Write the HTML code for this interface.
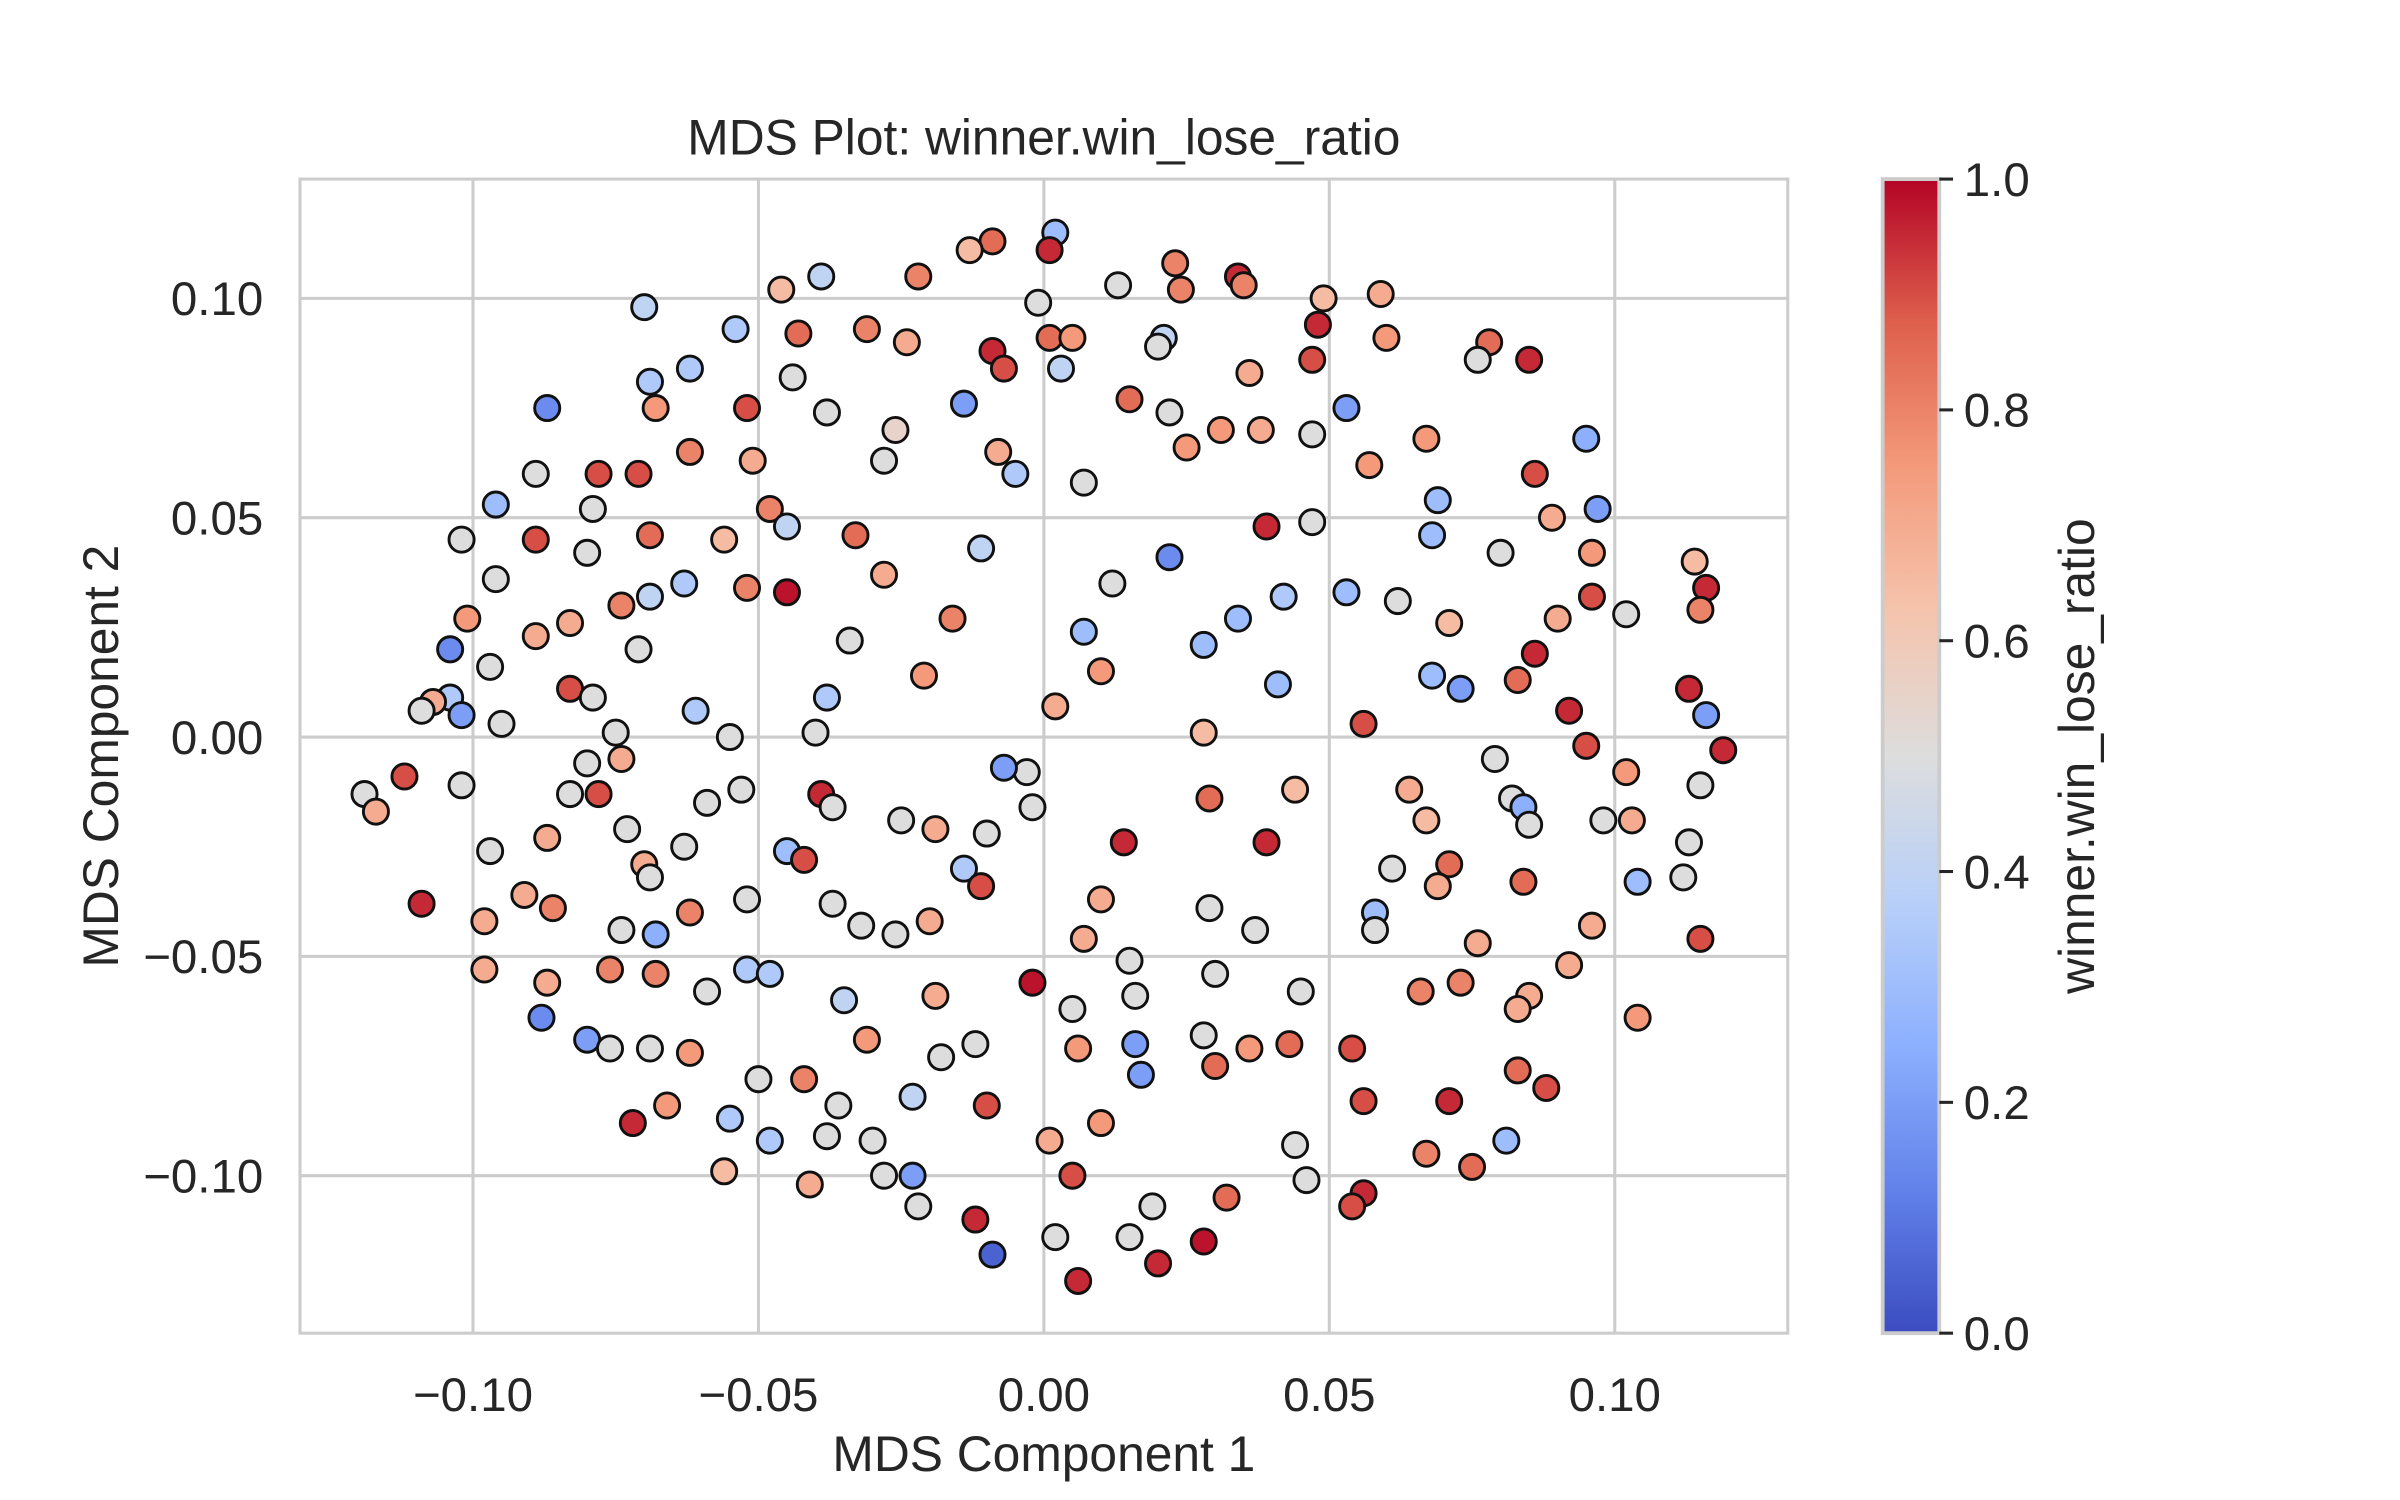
<!DOCTYPE html>
<html><head><meta charset="utf-8"><style>
html,body{margin:0;padding:0;background:#fff;}
svg{display:block;font-family:"Liberation Sans",Arial,sans-serif;}
</style></head><body>
<svg id="chart" width="2400" height="1500" viewBox="0 0 1568 980" xmlns="http://www.w3.org/2000/svg">
<defs>
<linearGradient id="cw" x1="0" y1="1" x2="0" y2="0">
<stop offset="0" stop-color="rgb(59,76,192)"/><stop offset="0.125" stop-color="rgb(98,130,234)"/>
<stop offset="0.25" stop-color="rgb(141,176,254)"/><stop offset="0.375" stop-color="rgb(184,208,249)"/>
<stop offset="0.5" stop-color="rgb(221,221,221)"/><stop offset="0.625" stop-color="rgb(245,196,173)"/>
<stop offset="0.75" stop-color="rgb(244,154,123)"/><stop offset="0.875" stop-color="rgb(222,96,77)"/>
<stop offset="1" stop-color="rgb(180,4,38)"/>
</linearGradient>
</defs>
<g id="grid"></g>
<g id="points"></g>
<rect x="196" y="117" width="972" height="754" fill="none" stroke="#cccccc" stroke-width="2"/>
<g id="xticks"></g>
<g id="yticks"></g>
<text x="682" y="101" font-size="32.5" text-anchor="middle" fill="#262626">MDS Plot: winner.win_lose_ratio</text>
<text x="682" y="961" font-size="32.5" text-anchor="middle" fill="#262626">MDS Component 1</text>
<text transform="translate(77,494) rotate(-90)" font-size="32.5" text-anchor="middle" fill="#262626">MDS Component 2</text>
<rect x="1230" y="117" width="37" height="754" fill="url(#cw)" stroke="#cccccc" stroke-width="2.5"/>
<g id="cticks"></g>
<text transform="translate(1368,494) rotate(-90)" font-size="32.5" text-anchor="middle" fill="#262626">winner.win_lose_ratio</text>
</svg>
<script>
const xs=[0.002,0.001,-0.009,-0.013,-0.022,0.023,0.034,0.024,0.035,0.013,0.049,0.059,-0.001,-0.039,-0.046,-0.070,-0.054,-0.043,-0.031,-0.024,0.001,0.005,0.021,0.020,0.048,0.060,-0.009,-0.007,0.003,-0.044,-0.069,-0.062,0.078,0.076,0.085,0.047,0.036,-0.087,-0.068,-0.052,-0.038,-0.026,-0.028,-0.014,0.015,0.022,0.053,0.031,0.038,0.025,0.047,-0.008,-0.005,0.007,-0.089,-0.078,-0.071,-0.062,-0.051,0.067,0.057,0.086,0.095,-0.096,-0.079,-0.048,0.069,0.097,0.089,-0.045,-0.033,-0.069,-0.056,-0.011,0.039,0.047,0.068,0.080,0.022,-0.102,-0.089,-0.080,0.096,0.114,0.116,0.115,0.096,-0.028,-0.052,-0.045,-0.063,-0.069,-0.074,-0.096,0.012,0.042,0.053,0.062,0.102,0.034,0.007,-0.016,0.090,0.071,-0.083,-0.101,-0.089,-0.034,-0.071,-0.104,-0.097,0.010,0.028,-0.021,0.086,0.068,0.073,0.083,-0.083,-0.079,0.041,-0.038,-0.104,-0.107,-0.109,-0.102,0.113,0.116,0.002,-0.061,0.092,-0.095,0.056,-0.075,-0.040,0.028,0.095,0.119,-0.055,-0.074,-0.080,0.079,-0.112,-0.119,-0.117,-0.102,-0.003,-0.007,0.102,0.115,-0.083,-0.078,-0.053,-0.039,-0.059,-0.037,-0.002,0.029,0.044,0.064,0.082,0.084,0.085,0.067,-0.025,-0.019,-0.010,0.014,0.039,0.098,0.103,0.113,-0.073,-0.087,-0.097,-0.063,-0.070,-0.069,-0.045,-0.042,-0.014,-0.011,0.061,0.071,0.069,0.084,0.104,0.112,-0.109,-0.091,-0.086,-0.052,-0.037,0.010,0.029,0.058,0.058,-0.098,-0.074,-0.062,-0.032,-0.026,-0.020,-0.068,0.096,0.076,0.007,0.037,0.115,-0.098,-0.076,-0.068,-0.087,-0.052,-0.048,-0.059,-0.002,0.015,0.030,0.045,0.066,0.073,0.085,0.083,0.092,0.104,-0.035,-0.019,0.016,-0.088,-0.080,-0.076,-0.069,-0.062,-0.031,-0.018,-0.012,0.005,0.006,0.016,0.017,0.028,0.036,0.043,0.054,0.030,-0.050,-0.042,-0.023,-0.036,-0.066,-0.055,-0.048,-0.038,-0.030,-0.010,0.010,0.056,0.071,0.083,0.088,-0.072,0.067,0.075,0.081,0.044,0.046,0.001,0.005,-0.056,-0.041,-0.028,-0.023,-0.022,0.056,0.054,0.032,0.019,-0.012,0.002,0.015,0.028,-0.009,0.020,0.006];
const ys=[0.115,0.111,0.113,0.111,0.105,0.108,0.105,0.102,0.103,0.103,0.100,0.101,0.099,0.105,0.102,0.098,0.093,0.092,0.093,0.090,0.091,0.091,0.091,0.089,0.094,0.091,0.088,0.084,0.084,0.082,0.081,0.084,0.090,0.086,0.086,0.086,0.083,0.075,0.075,0.075,0.074,0.070,0.063,0.076,0.077,0.074,0.075,0.070,0.070,0.066,0.069,0.065,0.060,0.058,0.060,0.060,0.060,0.065,0.063,0.068,0.062,0.060,0.068,0.053,0.052,0.052,0.054,0.052,0.050,0.048,0.046,0.046,0.045,0.043,0.048,0.049,0.046,0.042,0.041,0.045,0.045,0.042,0.042,0.040,0.034,0.029,0.032,0.037,0.034,0.033,0.035,0.032,0.030,0.036,0.035,0.032,0.033,0.031,0.028,0.027,0.024,0.027,0.027,0.026,0.026,0.027,0.023,0.022,0.020,0.020,0.016,0.015,0.021,0.014,0.019,0.014,0.011,0.013,0.011,0.009,0.012,0.009,0.009,0.008,0.006,0.005,0.011,0.005,0.007,0.006,0.006,0.003,0.003,0.001,0.001,0.001,-0.002,-0.003,0.000,-0.005,-0.006,-0.005,-0.009,-0.013,-0.017,-0.011,-0.008,-0.007,-0.008,-0.011,-0.013,-0.013,-0.012,-0.013,-0.015,-0.016,-0.016,-0.014,-0.012,-0.012,-0.014,-0.016,-0.020,-0.019,-0.019,-0.021,-0.022,-0.024,-0.024,-0.019,-0.019,-0.024,-0.021,-0.023,-0.026,-0.025,-0.029,-0.032,-0.026,-0.028,-0.030,-0.034,-0.030,-0.029,-0.034,-0.033,-0.033,-0.032,-0.038,-0.036,-0.039,-0.037,-0.038,-0.037,-0.039,-0.040,-0.044,-0.042,-0.044,-0.040,-0.043,-0.045,-0.042,-0.045,-0.043,-0.047,-0.046,-0.044,-0.046,-0.053,-0.053,-0.054,-0.056,-0.053,-0.054,-0.058,-0.056,-0.051,-0.054,-0.058,-0.058,-0.056,-0.059,-0.062,-0.052,-0.064,-0.060,-0.059,-0.059,-0.064,-0.069,-0.071,-0.071,-0.072,-0.069,-0.073,-0.070,-0.062,-0.071,-0.070,-0.077,-0.068,-0.071,-0.070,-0.071,-0.075,-0.078,-0.078,-0.082,-0.084,-0.084,-0.087,-0.092,-0.091,-0.092,-0.084,-0.088,-0.083,-0.083,-0.076,-0.080,-0.088,-0.095,-0.098,-0.092,-0.093,-0.101,-0.092,-0.100,-0.099,-0.102,-0.100,-0.100,-0.107,-0.104,-0.107,-0.105,-0.107,-0.110,-0.114,-0.114,-0.115,-0.118,-0.120,-0.124];
const vals=[0.3,0.95,0.85,0.65,0.8,0.8,0.95,0.8,0.8,0.5,0.65,0.7,0.5,0.4,0.65,0.4,0.35,0.85,0.8,0.7,0.85,0.75,0.4,0.5,0.95,0.75,0.95,0.9,0.4,0.5,0.35,0.35,0.85,0.5,0.95,0.9,0.7,0.15,0.75,0.9,0.5,0.55,0.5,0.2,0.85,0.5,0.2,0.75,0.7,0.75,0.5,0.7,0.35,0.5,0.5,0.9,0.9,0.8,0.7,0.75,0.75,0.9,0.25,0.3,0.5,0.8,0.3,0.2,0.7,0.4,0.85,0.85,0.65,0.4,0.95,0.5,0.3,0.5,0.15,0.5,0.9,0.5,0.75,0.65,0.95,0.8,0.9,0.7,0.8,0.98,0.35,0.4,0.8,0.5,0.5,0.35,0.3,0.5,0.5,0.3,0.3,0.8,0.7,0.65,0.7,0.75,0.7,0.5,0.5,0.15,0.5,0.75,0.3,0.75,0.95,0.3,0.2,0.85,0.9,0.5,0.3,0.35,0.35,0.7,0.5,0.2,0.95,0.2,0.7,0.35,0.95,0.5,0.9,0.5,0.5,0.65,0.9,0.95,0.5,0.7,0.5,0.5,0.9,0.5,0.7,0.5,0.5,0.2,0.75,0.5,0.5,0.9,0.5,0.95,0.5,0.5,0.5,0.85,0.65,0.7,0.5,0.25,0.5,0.65,0.5,0.7,0.5,0.95,0.95,0.5,0.7,0.5,0.5,0.7,0.5,0.5,0.7,0.5,0.3,0.9,0.35,0.9,0.5,0.85,0.7,0.85,0.3,0.5,0.95,0.7,0.8,0.5,0.5,0.7,0.5,0.3,0.5,0.7,0.5,0.8,0.5,0.5,0.7,0.25,0.7,0.7,0.7,0.5,0.9,0.7,0.8,0.8,0.7,0.35,0.35,0.5,0.98,0.5,0.5,0.5,0.8,0.8,0.7,0.7,0.7,0.75,0.4,0.7,0.5,0.15,0.2,0.5,0.5,0.75,0.75,0.5,0.5,0.5,0.75,0.2,0.2,0.5,0.75,0.85,0.9,0.85,0.5,0.8,0.4,0.5,0.75,0.35,0.35,0.5,0.5,0.9,0.75,0.9,0.95,0.85,0.9,0.95,0.8,0.85,0.3,0.5,0.5,0.7,0.9,0.65,0.7,0.5,0.2,0.5,0.95,0.9,0.85,0.5,0.95,0.5,0.5,0.98,0.05,0.95,0.95];
const xTicks=[-0.10,-0.05,0.00,0.05,0.10];
const yTicks=[-0.10,-0.05,0.00,0.05,0.10];
const cTicks=[0.0,0.2,0.4,0.6,0.8,1.0];

const NS="http://www.w3.org/2000/svg";
const X0=196,X1=1168,Y0=117,Y1=871;
const xMin=-0.1303,xMax=0.1303,yMin=-0.1359,yMax=0.1272;
const sx=v=>X0+(v-xMin)/(xMax-xMin)*(X1-X0);
const sy=v=>Y1-(v-yMin)/(yMax-yMin)*(Y1-Y0);
const sc=v=>Y1-v*(Y1-Y0);
const stops=[[59,76,192],[98,130,234],[141,176,254],[184,208,249],[221,221,221],[245,196,173],[244,154,123],[222,96,77],[180,4,38]];
function cmap(v){v=Math.max(0,Math.min(1,v));const t=v*8,i=Math.min(7,Math.floor(t)),f=t-i;const a=stops[i],b=stops[i+1];return `rgb(${a.map((c,k)=>Math.round(c+(b[k]-c)*f)).join(',')})`;}
function mk(tag,attrs,parent){const e=document.createElementNS(NS,tag);for(const k in attrs)e.setAttribute(k,attrs[k]);parent.appendChild(e);return e;}
const fmt=v=>(v<0?"\u2212":"")+Math.abs(v).toFixed(2);
const grid=document.getElementById('grid');
xTicks.forEach(t=>{const l=mk('line',{x1:sx(t),x2:sx(t),y1:Y0,y2:Y1,stroke:'#cccccc','stroke-width':2},grid);


const tx=mk('text',{x:sx(t),y:922,'font-size':31,'text-anchor':'middle',fill:'#262626'},document.getElementById('xticks'));tx.textContent=fmt(t);

});
yTicks.forEach(t=>{const l=mk('line',{x1:X0,x2:X1,y1:sy(t),y2:sy(t),stroke:'#cccccc','stroke-width':2},grid);


const tx=mk('text',{x:172,y:sy(t)+11,'font-size':31,'text-anchor':'end',fill:'#262626'},document.getElementById('yticks'));tx.textContent=fmt(t);

});
const pg=document.getElementById('points');
for(let i=0;i<xs.length;i++){const c=mk('circle',{cx:sx(xs[i]),cy:sy(ys[i]),r:8.2,fill:cmap(vals[i]),stroke:'#111111','stroke-width':1.9},pg);

}
const cg=document.getElementById('cticks');
cTicks.forEach(t=>{const l=mk('line',{x1:1267,x2:1276,y1:sc(t),y2:sc(t),stroke:'#262626','stroke-width':2},cg);


const tx=mk('text',{x:1283,y:sc(t)+11,'font-size':31,fill:'#262626'},cg);tx.textContent=t.toFixed(1);

});
</script>
</body></html>
